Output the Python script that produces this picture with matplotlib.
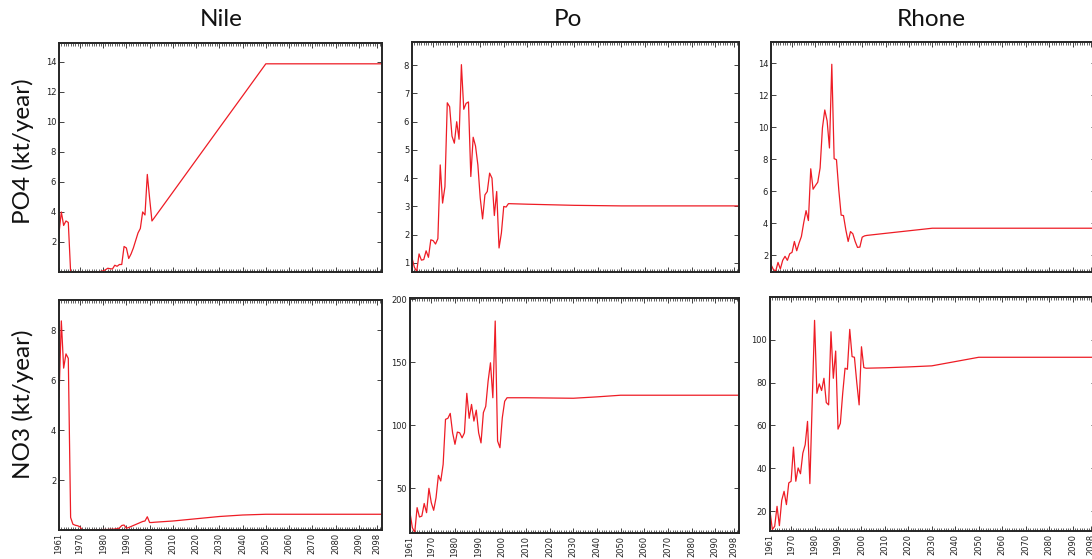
import matplotlib
matplotlib.use("Agg")
import matplotlib.pyplot as plt
from matplotlib.ticker import MultipleLocator, FixedLocator

# ---- data -------------------------------------------------------------
hist_years = list(range(1961, 2003))                 # observed/reconstructed, yearly
proj_years = [2010, 2020, 2030, 2040, 2050, 2060, 2070, 2080, 2090, 2100]

rivers = ["Nile", "Po", "Rhone"]

nile_po4_hist = [2.6, 4.0, 3.1, 3.4, 3.3, 0.0, 0.0, 0.0, 0.0, 0.0, 0.0, 0.0, 0.0, 0.0,
                 0.0, 0.0, 0.0, 0.02, 0.04, 0.08, 0.15, 0.25, 0.22, 0.2, 0.45, 0.38,
                 0.5, 0.5, 1.7, 1.6, 0.9, 1.2, 1.6, 2.1, 2.6, 2.9, 4.0, 3.8, 6.5, 4.9,
                 3.4, 3.61]
nile_po4_proj = [5.32, 7.46, 9.6, 11.73, 13.87, 13.87, 13.87, 13.87, 13.87, 13.87]

po_po4_hist = [1.18, 0.85, 0.7, 1.32, 1.1, 1.12, 1.43, 1.2, 1.82, 1.79, 1.67, 1.86,
               4.47, 3.12, 3.7, 6.67, 6.53, 5.49, 5.24, 6.0, 5.38, 8.02, 6.44, 6.65,
               6.7, 4.06, 5.45, 5.14, 4.47, 3.3, 2.56, 3.41, 3.53, 4.18, 4.0, 2.68,
               3.53, 1.53, 2.06, 3.0, 2.98, 3.1]
po_po4_proj = [3.08, 3.06, 3.04, 3.03, 3.02, 3.02, 3.02, 3.02, 3.02, 3.02]

rhone_po4_hist = [1.4, 1.1, 1.0, 1.54, 1.13, 1.67, 1.92, 1.67, 2.08, 2.17, 2.85, 2.27,
                  2.75, 3.16, 4.03, 4.78, 4.16, 7.4, 6.12, 6.35, 6.56, 7.45, 9.96,
                  11.08, 10.4, 8.7, 13.94, 8.03, 7.97, 6.06, 4.5, 4.47, 3.58, 2.85,
                  3.47, 3.33, 2.85, 2.48, 2.5, 3.12, 3.2, 3.23]
rhone_po4_proj = [3.36, 3.52, 3.68, 3.68, 3.68, 3.68, 3.68, 3.68, 3.68, 3.68]

nile_no3_hist = [5.3, 8.37, 6.48, 7.05, 6.87, 0.5, 0.23, 0.19, 0.17, 0.13, 0.0, 0.0,
                 0.0, 0.0, 0.0, 0.0, 0.0, 0.01, 0.01, 0.02, 0.02, 0.02, 0.03, 0.03,
                 0.04, 0.05, 0.08, 0.18, 0.2, 0.07, 0.1, 0.14, 0.18, 0.22, 0.26, 0.3,
                 0.34, 0.36, 0.53, 0.3, 0.3, 0.31]
nile_no3_proj = [0.36, 0.45, 0.54, 0.6, 0.63, 0.63, 0.63, 0.63, 0.63, 0.63]

po_no3_hist = [30.7, 18.8, 15.0, 34.7, 27.3, 28.0, 38.0, 30.7, 50.0, 38.6, 32.6, 42.6,
               60.3, 55.8, 69.0, 104.7, 105.5, 109.4, 94.0, 84.9, 94.6, 94.0, 90.0,
               94.0, 125.3, 105.5, 116.5, 103.3, 112.0, 94.0, 86.0, 110.0, 115.0,
               135.0, 149.5, 121.8, 182.6, 87.5, 82.2, 106.0, 119.0, 121.8]
po_no3_proj = [121.8, 121.6, 121.4, 122.5, 123.8, 123.8, 123.8, 123.8, 123.8, 123.8]

rhone_no3_hist = [20.0, 11.5, 13.0, 22.3, 13.3, 25.1, 29.3, 23.1, 33.2, 34.0, 49.9,
                  34.0, 40.2, 37.5, 47.1, 51.0, 61.9, 32.9, 71.0, 109.0, 75.0, 79.4,
                  76.3, 82.0, 70.7, 69.6, 103.7, 82.0, 94.7, 58.3, 61.0, 75.0, 86.7,
                  86.2, 104.8, 92.1, 91.8, 80.0, 69.6, 96.7, 87.0, 86.7]
rhone_no3_proj = [86.9, 87.3, 87.8, 89.8, 91.8, 91.8, 91.8, 91.8, 91.8, 91.8]

po4_series = [nile_po4_hist + nile_po4_proj,
              po_po4_hist + po_po4_proj,
              rhone_po4_hist + rhone_po4_proj]
no3_series = [nile_no3_hist + nile_no3_proj,
              po_no3_hist + po_no3_proj,
              rhone_no3_hist + rhone_no3_proj]

po4_yticks = [[2, 4, 6, 8, 10, 12, 14], [1, 2, 3, 4, 5, 6, 7, 8], [2, 4, 6, 8, 10, 12, 14]]
no3_yticks = [[2, 4, 6, 8], [50, 100, 150, 200], [20, 40, 60, 80, 100]]
po4_ybottom = [0.0, 0.68, 0.94]
no3_ybottom = [0.0, 14.6, 10.8]

xtick_years = [1961, 1970, 1980, 1990, 2000, 2010, 2020, 2030, 2040, 2050,
               2060, 2070, 2080, 2090, 2098]

row_labels = ["PO4 (kt/year)", "NO3 (kt/year)"]

# ---- figure -----------------------------------------------------------
W, H = 1092, 559
fig = plt.figure(figsize=(W / 100, H / 100), dpi=100, facecolor="white")

years = hist_years + proj_years

# panel boxes in pixels: (left, top, right, bottom)
top_boxes = [(59, 43, 382, 272), (412, 42, 739, 272), (771, 42, 1096, 272)]
bot_boxes = [(59, 300, 382, 530), (410, 298, 739, 533), (770, 297, 1096, 531)]


def make_axes(box):
    l, t, r, b = box
    return fig.add_axes([l / W, 1 - b / H, (r - l) / W, (b - t) / H])


def style_axes(ax, yticks, ybottom, values, show_xlabels):
    ax.plot(years, values, color="#ee1c25", lw=0.9)
    ax.set_xlim(1961, 2100)
    ax.set_ylim(ybottom, 1.1 * max(values))
    ax.xaxis.set_major_locator(FixedLocator(xtick_years))
    ax.xaxis.set_minor_locator(MultipleLocator(1))
    ax.yaxis.set_major_locator(FixedLocator(yticks))
    ax.tick_params(which="both", direction="in", top=True, right=True,
                   labelsize=6, colors="#222222", pad=2)
    ax.tick_params(which="major", length=3.5, width=0.6)
    ax.tick_params(which="minor", length=2.0, width=0.5)
    if show_xlabels:
        ax.set_xticklabels([str(y) for y in xtick_years], rotation=90)
    else:
        ax.set_xticklabels([])
    for s in ax.spines.values():
        s.set_linewidth(1.4)
        s.set_color("#262626")


for i in range(3):
    ax_top = make_axes(top_boxes[i])
    style_axes(ax_top, po4_yticks[i], po4_ybottom[i], po4_series[i], False)
    ax_bot = make_axes(bot_boxes[i])
    style_axes(ax_bot, no3_yticks[i], no3_ybottom[i], no3_series[i], True)

title_x = [221, 568, 931]
for name, x in zip(rivers, title_x):
    fig.text(x / W, 1 - 19 / H, name, ha="center", va="center",
             fontsize=17.5, family="Lato", color="#111111")

fig.text(23 / W, 1 - 151 / H, row_labels[0], rotation=90, ha="center", va="center",
         fontsize=17.5, family="Lato", color="#111111")
fig.text(23 / W, 1 - 404 / H, row_labels[1], rotation=90, ha="center", va="center",
         fontsize=17.5, family="Lato", color="#111111")

fig.savefig("out.png", dpi=100, facecolor="white")
